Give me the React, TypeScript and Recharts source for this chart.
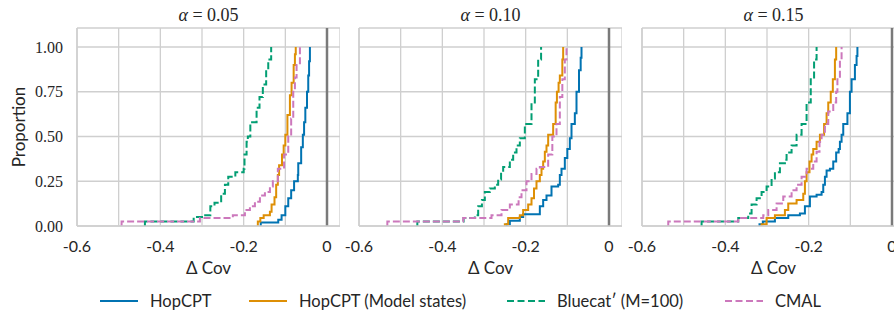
import { CartesianGrid, Line, LineChart, ReferenceLine, XAxis, YAxis } from 'recharts';

type Pt = [number, number];

// ECDF corners: [Δ Cov, proportion]
const hop05: Pt[] = [[-0.159, 0], [-0.159, 0.02], [-0.117, 0.035], [-0.109, 0.06], [-0.1, 0.11], [-0.093, 0.155], [-0.086, 0.2], [-0.079, 0.25], [-0.07, 0.285], [-0.069, 0.35], [-0.062, 0.44], [-0.058, 0.51], [-0.055, 0.58], [-0.052, 0.66], [-0.048, 0.75], [-0.045, 0.84], [-0.043, 0.92], [-0.041, 1.0]];
const pm05: Pt[] = [[-0.166, 0], [-0.166, 0.025], [-0.16, 0.045], [-0.152, 0.06], [-0.137, 0.08], [-0.133, 0.12], [-0.126, 0.16], [-0.122, 0.23], [-0.118, 0.285], [-0.115, 0.34], [-0.108, 0.4], [-0.104, 0.45], [-0.1, 0.51], [-0.095, 0.62], [-0.089, 0.73], [-0.085, 0.8], [-0.08, 0.9], [-0.077, 0.96], [-0.075, 1.0]];
const bc05: Pt[] = [[-0.437, 0], [-0.437, 0.025], [-0.32, 0.05], [-0.3, 0.06], [-0.28, 0.11], [-0.27, 0.13], [-0.254, 0.18], [-0.245, 0.23], [-0.237, 0.275], [-0.22, 0.3], [-0.2, 0.32], [-0.198, 0.4], [-0.193, 0.47], [-0.19, 0.5], [-0.184, 0.58], [-0.169, 0.66], [-0.162, 0.72], [-0.154, 0.79], [-0.146, 0.87], [-0.141, 0.93], [-0.134, 1.0]];
const cmal05: Pt[] = [[-0.493, 0], [-0.493, 0.025], [-0.305, 0.045], [-0.226, 0.06], [-0.197, 0.09], [-0.185, 0.11], [-0.173, 0.136], [-0.161, 0.17], [-0.149, 0.19], [-0.137, 0.22], [-0.13, 0.25], [-0.118, 0.32], [-0.103, 0.4], [-0.093, 0.5], [-0.086, 0.6], [-0.081, 0.75], [-0.077, 0.83], [-0.073, 0.9], [-0.065, 1.0]];

const hop10: Pt[] = [[-0.246, 0], [-0.246, 0.01], [-0.238, 0.03], [-0.214, 0.05], [-0.206, 0.065], [-0.166, 0.11], [-0.158, 0.145], [-0.15, 0.17], [-0.138, 0.22], [-0.122, 0.23], [-0.118, 0.285], [-0.114, 0.32], [-0.106, 0.38], [-0.1, 0.43], [-0.094, 0.49], [-0.09, 0.57], [-0.082, 0.63], [-0.078, 0.75], [-0.072, 0.87], [-0.068, 0.94], [-0.066, 1.0]];
const pm10: Pt[] = [[-0.25, 0], [-0.25, 0.01], [-0.242, 0.045], [-0.214, 0.06], [-0.206, 0.09], [-0.194, 0.12], [-0.186, 0.155], [-0.18, 0.21], [-0.174, 0.25], [-0.166, 0.285], [-0.162, 0.32], [-0.158, 0.36], [-0.154, 0.415], [-0.15, 0.45], [-0.146, 0.51], [-0.134, 0.57], [-0.128, 0.69], [-0.125, 0.75], [-0.121, 0.8], [-0.118, 0.84], [-0.112, 0.93], [-0.11, 1.0]];
const bc10: Pt[] = [[-0.46, 0], [-0.46, 0.025], [-0.349, 0.045], [-0.322, 0.06], [-0.314, 0.11], [-0.305, 0.145], [-0.298, 0.19], [-0.286, 0.21], [-0.274, 0.23], [-0.266, 0.26], [-0.259, 0.3], [-0.254, 0.33], [-0.238, 0.37], [-0.23, 0.41], [-0.222, 0.45], [-0.214, 0.49], [-0.202, 0.57], [-0.186, 0.69], [-0.178, 0.82], [-0.17, 0.93], [-0.163, 1.0]];
const cmal10: Pt[] = [[-0.532, 0], [-0.532, 0.025], [-0.35, 0.045], [-0.282, 0.06], [-0.258, 0.09], [-0.238, 0.12], [-0.217, 0.16], [-0.21, 0.2], [-0.198, 0.25], [-0.186, 0.29], [-0.174, 0.32], [-0.166, 0.33], [-0.146, 0.4], [-0.136, 0.5], [-0.126, 0.57], [-0.118, 0.72], [-0.112, 0.82], [-0.106, 0.93], [-0.102, 1.0]];

const hop15: Pt[] = [[-0.318, 0], [-0.318, 0.01], [-0.31, 0.025], [-0.281, 0.045], [-0.249, 0.06], [-0.221, 0.07], [-0.209, 0.11], [-0.197, 0.165], [-0.181, 0.175], [-0.169, 0.19], [-0.165, 0.23], [-0.161, 0.275], [-0.157, 0.31], [-0.149, 0.32], [-0.141, 0.36], [-0.134, 0.41], [-0.128, 0.43], [-0.125, 0.47], [-0.121, 0.51], [-0.117, 0.57], [-0.107, 0.63], [-0.101, 0.75], [-0.097, 0.82], [-0.089, 0.9], [-0.085, 0.95], [-0.083, 1.0]];
const pm15: Pt[] = [[-0.313, 0], [-0.313, 0.01], [-0.301, 0.045], [-0.281, 0.06], [-0.257, 0.09], [-0.249, 0.125], [-0.229, 0.145], [-0.213, 0.18], [-0.209, 0.25], [-0.205, 0.3], [-0.198, 0.36], [-0.193, 0.4], [-0.189, 0.43], [-0.181, 0.47], [-0.173, 0.51], [-0.163, 0.57], [-0.157, 0.63], [-0.153, 0.69], [-0.147, 0.75], [-0.142, 0.82], [-0.137, 0.93], [-0.134, 1.0]];
const bc15: Pt[] = [[-0.457, 0], [-0.457, 0.025], [-0.369, 0.045], [-0.345, 0.07], [-0.337, 0.12], [-0.325, 0.155], [-0.313, 0.19], [-0.301, 0.22], [-0.289, 0.265], [-0.281, 0.3], [-0.269, 0.35], [-0.257, 0.37], [-0.253, 0.41], [-0.241, 0.45], [-0.229, 0.51], [-0.217, 0.57], [-0.205, 0.69], [-0.195, 0.82], [-0.187, 0.93], [-0.181, 1.0]];
const cmal15: Pt[] = [[-0.537, 0], [-0.537, 0.025], [-0.369, 0.045], [-0.309, 0.06], [-0.297, 0.09], [-0.277, 0.125], [-0.261, 0.165], [-0.241, 0.2], [-0.229, 0.23], [-0.217, 0.275], [-0.205, 0.32], [-0.189, 0.36], [-0.181, 0.415], [-0.174, 0.47], [-0.169, 0.51], [-0.161, 0.57], [-0.153, 0.64], [-0.141, 0.69], [-0.134, 0.75], [-0.131, 0.82], [-0.125, 0.93], [-0.121, 1.0]];

const alphas = ['0.05', '0.10', '0.15'];
const seriesNames = ['HopCPT', 'HopCPT (Model states)', 'Bluecat\u2032 (M=100)', 'CMAL'];
const seriesColors = ['#0173b2', '#de8f05', '#029e73', '#cc78bc'];
const seriesDashed = [false, false, true, true];
const panelData: Pt[][][] = [
  [hop05, pm05, bc05, cmal05],
  [hop10, pm10, bc10, cmal10],
  [hop15, pm15, bc15, cmal15],
];

const xTicks = [-0.6, -0.5, -0.4, -0.3, -0.2, -0.1, 0];
const xTickLabels = ['-0.6', '', '-0.4', '', '-0.2', '', '0'];
const yTicks = [0, 0.25, 0.5, 0.75, 1];
const yTickLabels = ['0.00', '0.25', '0.50', '0.75', '1.00'];

const SANS = 'Lato, "DejaVu Sans", sans-serif';
const SERIF = '"Liberation Serif", "DejaVu Serif", serif';
const INK = '#262626';
const GRID = '#cfcfcf';

// plot area geometry (px)
const PLOT_W = 263;
const PLOT_TOP = 28;
const CHART_H = 280;
const panelLeft = [77, 359, 642];

function Panel({ idx }: { idx: number }) {
  const first = idx === 0;
  const yw = first ? 77 : 24;
  const left = panelLeft[idx] - yw;
  return (
    <div style={{ position: 'absolute', left, top: 0 }}>
      <LineChart width={yw + PLOT_W} height={CHART_H} margin={{ top: PLOT_TOP, right: 0, bottom: 0, left: 0 }}>
        <CartesianGrid stroke={GRID} strokeWidth={1.3} />
        <XAxis
          type="number"
          dataKey="x"
          domain={[-0.6, 0.0312]}
          allowDataOverflow
          ticks={xTicks}
          interval={0}
          height={54}
          tickLine={false}
          tickSize={0}
          tickMargin={15}
          axisLine={{ stroke: GRID, strokeWidth: 1.5 }}
          tick={{ fill: INK, fontSize: 16, fontFamily: SANS }}
          tickFormatter={(v: number) => xTickLabels[xTicks.indexOf(v)] ?? ''}
        />
        <YAxis
          type="number"
          domain={[0, 1.106]}
          allowDataOverflow
          ticks={yTicks}
          interval={0}
          width={yw}
          tickLine={false}
          tickSize={0}
          tickMargin={14}
          axisLine={{ stroke: GRID, strokeWidth: 1.5 }}
          tick={{ fill: INK, fontSize: 16, fontFamily: SERIF }}
          tickFormatter={(v: number) => (first ? yTickLabels[yTicks.indexOf(v)] ?? '' : '')}
        />
        <ReferenceLine x={0} stroke="#7a7a7a" strokeWidth={2.5} />
        {panelData[idx].map((pts, s) => (
          <Line
            key={s}
            data={pts.map(([x, y]) => ({ x, y }))}
            dataKey="y"
            type="stepAfter"
            stroke={seriesColors[s]}
            strokeWidth={2}
            strokeDasharray={seriesDashed[s] ? '7 3' : undefined}
            dot={false}
            activeDot={false}
            isAnimationActive={false}
          />
        ))}
      </LineChart>
      <div
        style={{
          position: 'absolute', left: yw, top: 5, width: PLOT_W, textAlign: 'center',
          fontFamily: SERIF, fontSize: 18, color: INK, whiteSpace: 'nowrap',
        }}
      >
        <i>α</i>&nbsp;=&nbsp;{alphas[idx]}
      </div>
      <div
        style={{
          position: 'absolute', left: yw, top: 257, width: PLOT_W, textAlign: 'center',
          fontFamily: SANS, fontSize: 17, color: INK, whiteSpace: 'nowrap',
        }}
      >
        Δ Cov
      </div>
    </div>
  );
}

function LegendItem({ s, x }: { s: number; x: number }) {
  return (
    <div style={{ position: 'absolute', left: x, top: 290, display: 'flex', alignItems: 'center', height: 22 }}>
      <svg width={38} height={6} style={{ marginRight: 12 }}>
        <line
          x1={0} y1={3} x2={38} y2={3}
          stroke={seriesColors[s]} strokeWidth={2.2}
          strokeDasharray={seriesDashed[s] ? '7 3.5' : undefined}
        />
      </svg>
      <span style={{ fontFamily: SANS, fontSize: 16.5, color: INK, whiteSpace: 'nowrap' }}>{seriesNames[s]}</span>
    </div>
  );
}

const legendX = [100, 249, 507, 725];

export default function App() {
  return (
    <div style={{ position: 'absolute', left: 0, top: 0, width: 894, height: 316, overflow: 'hidden', background: '#fff' }}>
      {alphas.map((_, i) => (
        <Panel key={i} idx={i} />
      ))}
      <div
        style={{
          position: 'absolute', left: 18, top: 127, transform: 'translate(-50%, -50%) rotate(-90deg)',
          fontFamily: SANS, fontSize: 17, color: INK, whiteSpace: 'nowrap',
        }}
      >
        Proportion
      </div>
      {seriesNames.map((_, s) => (
        <LegendItem key={s} s={s} x={legendX[s]} />
      ))}
    </div>
  );
}
